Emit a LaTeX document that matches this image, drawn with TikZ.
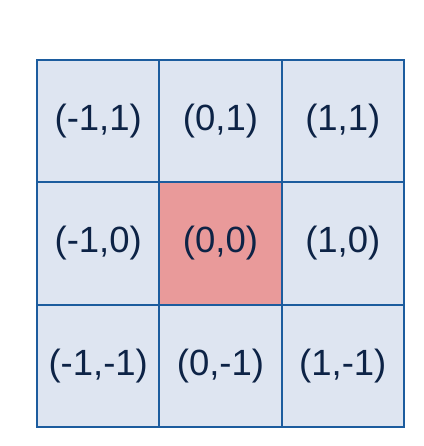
\documentclass[tikz,border=0pt]{standalone}
\usepackage{fontspec}
\setmainfont{Liberation Sans}
\usetikzlibrary{positioning}
\usetikzlibrary{calc}
\definecolor{cellfill}{HTML}{DEE5F1}
\definecolor{cellline}{HTML}{1C5C9E}
\definecolor{originfill}{HTML}{E99A9A}
\definecolor{celltext}{HTML}{0D2346}

\begin{document}
\begin{tikzpicture}[x=1pt,y=-1pt]
\tikzstyle{cell} =[rectangle,fill=cellfill,minimum size=122.3pt,inner sep=0pt,text=celltext,font=\fontsize{36.5}{40}\selectfont]
\tikzstyle{border} =[draw=cellline,line width=1.7pt]
\useasboundingbox (0,0) rectangle (423,446);
\coordinate (origin) at (220.5,243.5);
\foreach \x in {-1,0,1}{
  \foreach \y in {1,0,-1}{
    \node[cell](c\x\y) at ($(origin)+(122.3*\x,-122.3*\y)$){(\x,\y)};
  }
}
\node[cell,fill=originfill](c00) at (origin){(0,0)};
% cell borders
\foreach \x in {-1,0,1}{
  \foreach \y in {1,0,-1}{
    \draw[border] (c\x\y.north west) rectangle (c\x\y.south east);
  }
}
\end{tikzpicture}
\end{document}
